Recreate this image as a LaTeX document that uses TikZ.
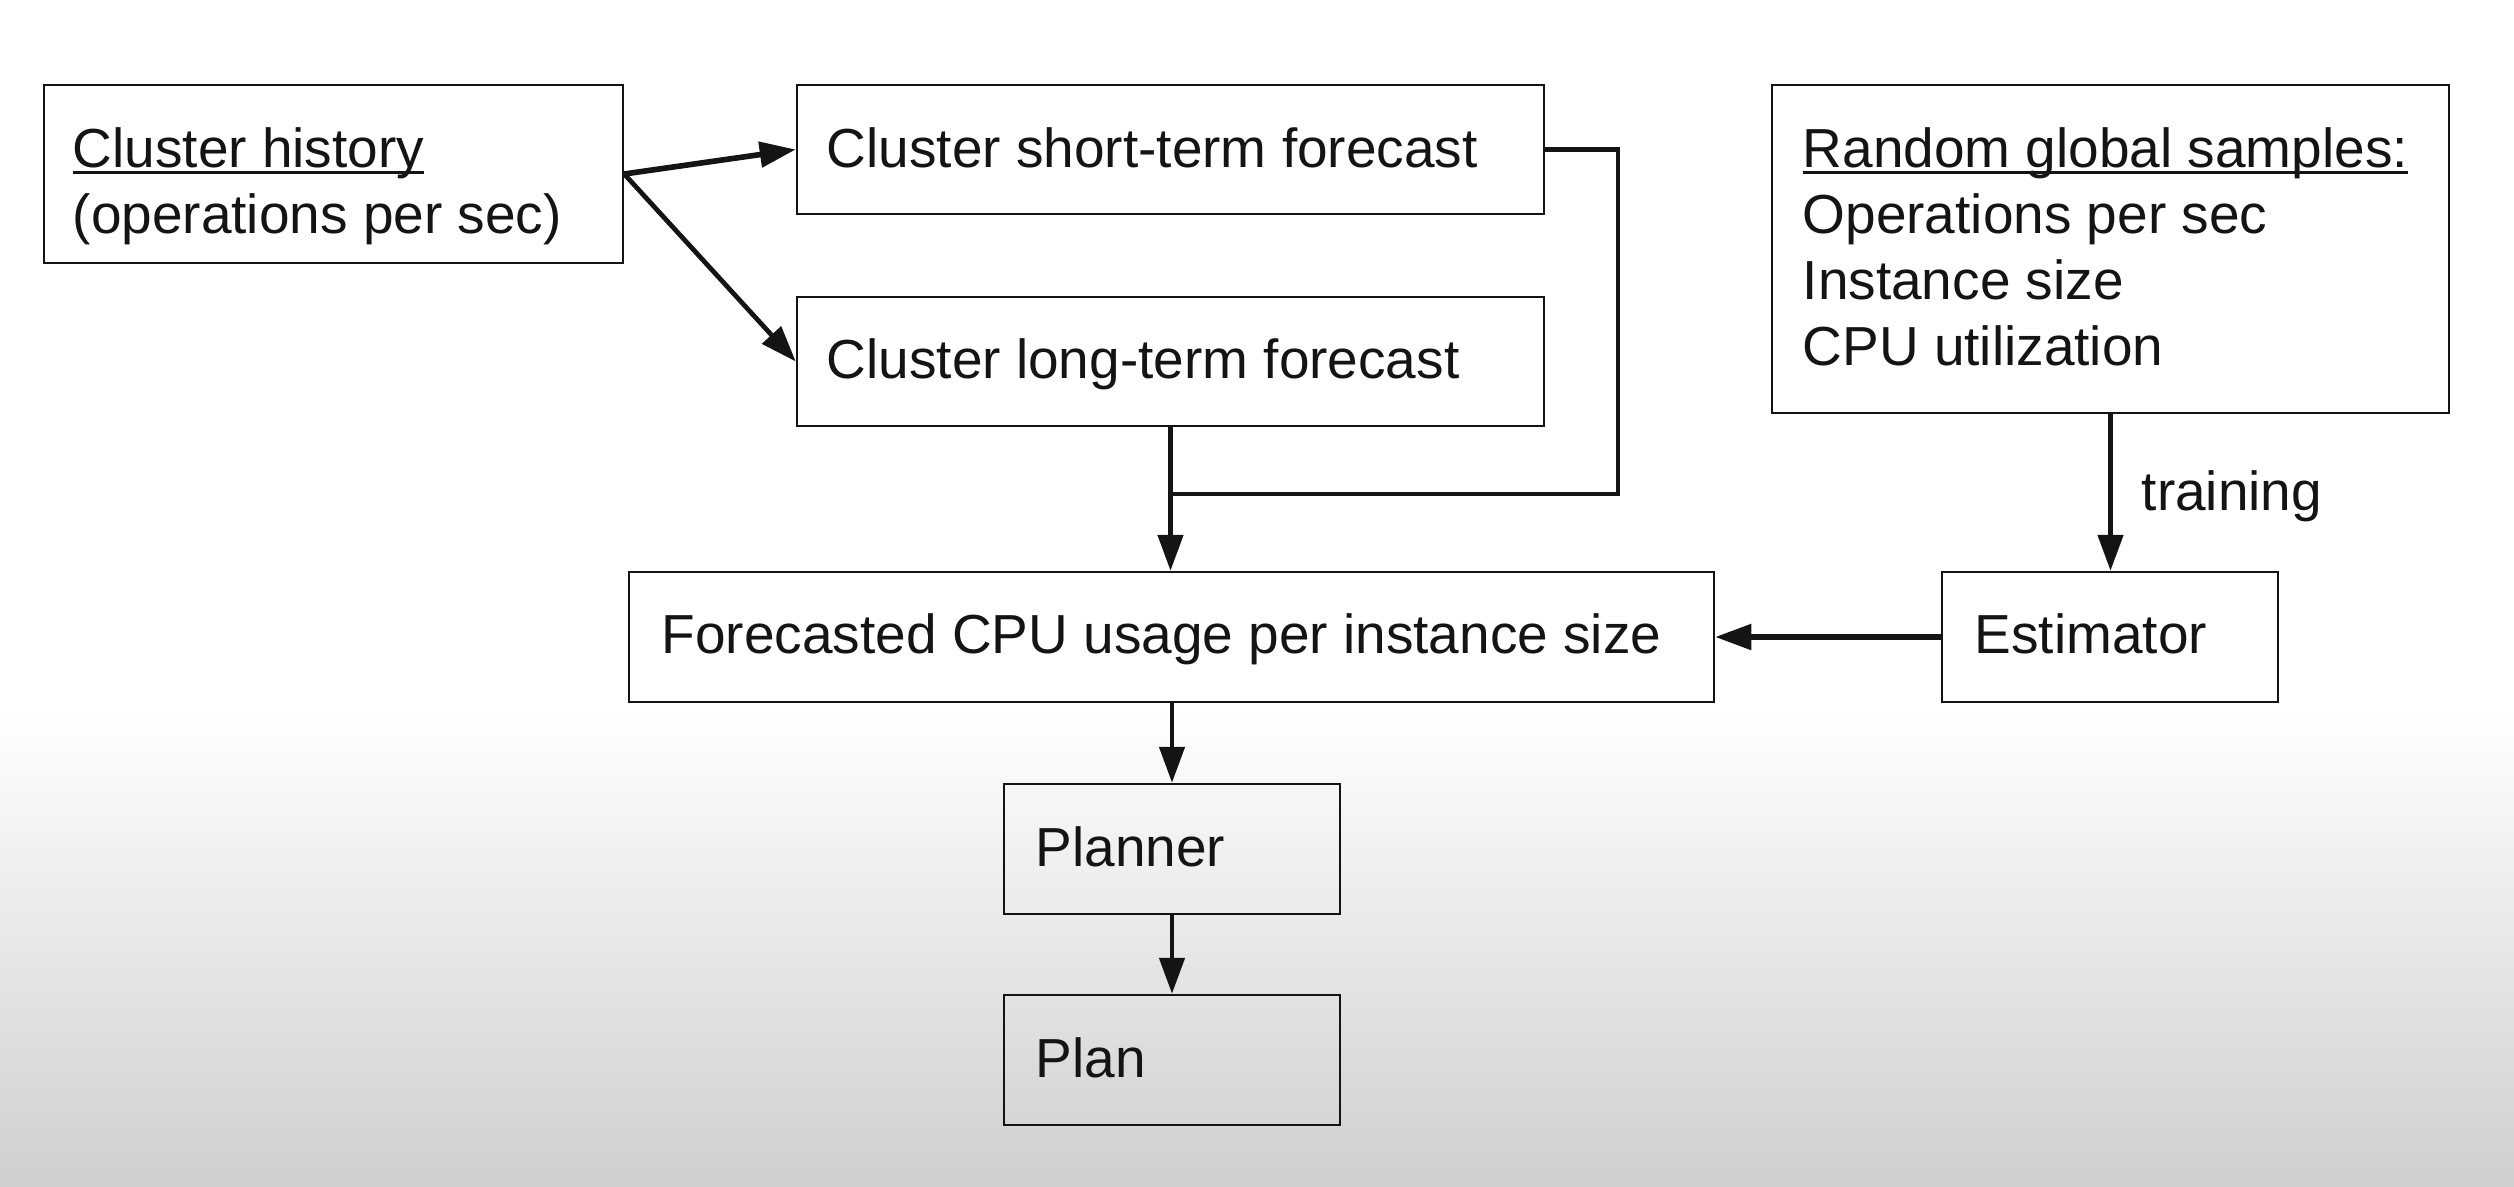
\documentclass[tikz,border=0pt]{standalone}
\usepackage{fontspec}
\setmainfont{Liberation Sans}
\usetikzlibrary{arrows.meta,calc}
\definecolor{bgbot}{RGB}{207,207,207}
\definecolor{ink}{RGB}{20,20,20}
\newcommand\myul[1]{\setbox0\hbox{#1}\rlap{\rule[-2.1pt]{\wd0}{0.85pt}}\box0}
\begin{document}
\begin{tikzpicture}[
  boxx/.style={draw=ink, line width=0.7pt, inner sep=0pt},
  txt/.style={anchor=base west, inner sep=0pt, text=ink, font=\fontsize{15.65}{18.8}\selectfont},
  conn/.style={line width=1.35pt, draw=ink},
  arr/.style={conn, -{Triangle[length=0.36cm,width=0.25cm]}}
]
\useasboundingbox (0,0) rectangle (25.14,-11.86);
\fill[white] (0,0) rectangle (25.14,-7.1);
\shade[top color=white, bottom color=bgbot] (0,-7.1) rectangle (25.14,-11.86);

% boxes
\node[boxx, minimum width=5.79cm, minimum height=1.78cm] (hist) at (3.335,-1.74) {};
\node[boxx, minimum width=7.47cm, minimum height=1.29cm] (short) at (11.705,-1.495) {};
\node[boxx, minimum width=7.47cm, minimum height=1.29cm] (long) at (11.705,-3.615) {};
\node[boxx, minimum width=6.77cm, minimum height=3.28cm] (rand) at (21.105,-2.49) {};
\node[boxx, minimum width=10.85cm, minimum height=1.30cm] (fore) at (11.715,-6.37) {};
\node[boxx, minimum width=3.36cm, minimum height=1.30cm] (est) at (21.10,-6.37) {};
\node[boxx, minimum width=3.36cm, minimum height=1.30cm] (planner) at (11.72,-8.49) {};
\node[boxx, minimum width=3.36cm, minimum height=1.30cm] (plan) at (11.72,-10.60) {};

% texts
\node[txt] (hist1) at (0.72,-1.67) {\myul{Cluster history}};
\node[txt] (hist2) at (0.72,-2.33) {(operations per sec)};
\node[txt] (shortt) at (8.26,-1.67) {Cluster short-term forecast};
\node[txt] (longt) at (8.26,-3.78) {Cluster long-term forecast};
\node[txt] (rand1) at (18.02,-1.67) {\myul{Random global samples:}};
\node[txt] (rand2) at (18.02,-2.33) {Operations per sec};
\node[txt] (rand3) at (18.02,-2.99) {Instance size};
\node[txt] (rand4) at (18.02,-3.65) {CPU utilization};
\node[txt] (foret) at (6.61,-6.53) {Forecasted CPU usage per instance size};
\node[txt] (estt) at (19.74,-6.53) {Estimator};
\node[txt] (plannert) at (10.35,-8.66) {Planner};
\node[txt] (plant) at (10.35,-10.77) {Plan};

% connectors
\draw[arr, line width=1.6pt] (hist.east) -- (short.west);
\draw[arr] (hist.east) -- (long.west);
\coordinate (jr) at (16.18,-4.94);
\draw[conn] (short.east) -| (jr) -- (jr -| long.south);
\draw[arr] (long.south) -- (fore.north -| long.south);
\draw[arr] (rand.south) -- (est.north -| rand.south);
\node[txt] (train) at (21.41,-5.10) {training};
\draw[arr, line width=1.5pt] (est.west) -- (fore.east);
\draw[arr] (fore.south -| planner.north) -- (planner.north);
\draw[arr] (planner.south) -- (plan.north);
\end{tikzpicture}
\end{document}
